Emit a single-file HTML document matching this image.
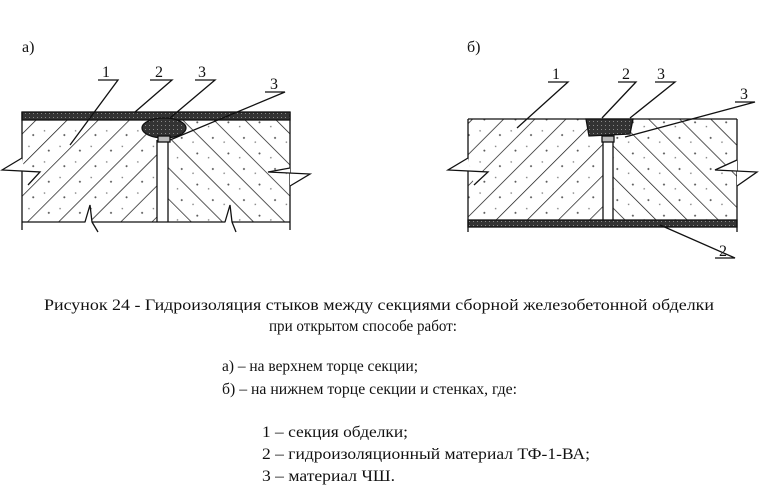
<!DOCTYPE html>
<html><head><meta charset="utf-8"><style>
body{margin:0;background:#fff;}
svg{display:block}
text{font-family:"Liberation Serif",serif;fill:#111}
</style></head><body>
<svg width="776" height="504" viewBox="0 0 776 504" xmlns="http://www.w3.org/2000/svg">
<defs>
<pattern id="hl" width="22" height="22" patternUnits="userSpaceOnUse" patternTransform="rotate(45)">
<line x1="0" y1="0" x2="0" y2="22" stroke="#111" stroke-width="1.4"/>
<circle cx="9" cy="6" r="1" fill="#555"/><circle cx="14" cy="17" r="0.8" fill="#777"/></pattern>
<pattern id="hr" width="22" height="22" patternUnits="userSpaceOnUse" patternTransform="rotate(-45)">
<line x1="0" y1="0" x2="0" y2="22" stroke="#111" stroke-width="1.4"/>
<circle cx="9" cy="6" r="1" fill="#555"/><circle cx="14" cy="17" r="0.8" fill="#777"/></pattern>
<pattern id="dk" width="4" height="4" patternUnits="userSpaceOnUse">
<rect width="4" height="4" fill="#333"/><rect x="1" y="1" width="1" height="1" fill="#888"/></pattern>
</defs>
<g stroke="#111" fill="none" stroke-width="1.3">
<!-- Diagram a -->
<rect x="22" y="112" width="135" height="110" fill="url(#hl)" stroke="none"/>
<rect x="168" y="112" width="122" height="110" fill="url(#hr)" stroke="none"/>
<rect x="22" y="112" width="268" height="8" fill="url(#dk)"/>
<line x1="22" y1="112" x2="22" y2="230"/><line x1="290" y1="112" x2="290" y2="230"/>
<line x1="22" y1="222" x2="290" y2="222"/>
<line x1="157" y1="140" x2="157" y2="222"/><line x1="168" y1="140" x2="168" y2="222"/>
<ellipse cx="164" cy="128" rx="22" ry="10" fill="url(#dk)"/>
<rect x="158" y="136" width="12" height="6" fill="#bbb"/>
<polyline points="22,158 2,170 40,172 28,185" fill="#fff"/>
<polyline points="85,222 90,205 92,222 98,232" fill="#fff"/>
<polyline points="290,168 268,172 310,174 290,186" fill="#fff"/>
<polyline points="225,222 230,205 232,222 236,232" fill="#fff"/>
<polyline points="98,80 118,80 70,145"/>
<polyline points="150,80 172,80 135,112"/>
<polyline points="195,80 215,80 170,118"/>
<polyline points="265,92 285,92 170,140"/>
<!-- Diagram b -->
<rect x="468" y="119" width="135" height="101" fill="url(#hl)" stroke="none"/>
<rect x="613" y="119" width="124" height="101" fill="url(#hr)" stroke="none"/>
<line x1="468" y1="119" x2="737" y2="119"/>
<rect x="468" y="220" width="269" height="7" fill="url(#dk)"/>
<line x1="468" y1="119" x2="468" y2="232"/><line x1="737" y1="119" x2="737" y2="232"/>
<line x1="603" y1="136" x2="603" y2="220"/><line x1="613" y1="136" x2="613" y2="220"/>
<path d="M586,119 L633,119 L630,134 L589,136 Z" fill="url(#dk)"/>
<rect x="602" y="136" width="12" height="6" fill="#bbb"/>
<polyline points="468,158 448,170 488,172 474,185" fill="#fff"/>
<polyline points="737,160 715,170 757,172 737,186" fill="#fff"/>
<polyline points="548,82 568,82 517,128"/>
<polyline points="618,82 636,82 602,118"/>
<polyline points="655,82 675,82 630,118"/>
<polyline points="735,102 755,102 625,137"/>
<polyline points="715,258 735,258 660,225"/>
</g>
<g font-size="16">
<text x="22" y="52">а)</text>
<text x="467" y="52">б)</text>
<text x="102" y="77">1</text><text x="155" y="77">2</text><text x="198" y="77">3</text><text x="270" y="89">3</text>
<text x="552" y="79">1</text><text x="622" y="79">2</text><text x="657" y="79">3</text><text x="740" y="99">3</text>
<text x="719" y="256">2</text>
</g>
<g font-size="16">
<text x="44" y="310" textLength="670" lengthAdjust="spacingAndGlyphs">Рисунок 24 - Гидроизоляция стыков между секциями сборной железобетонной обделки</text>
<text x="269" y="331" textLength="188" lengthAdjust="spacingAndGlyphs">при открытом способе работ:</text>
<text x="222" y="371" textLength="196" lengthAdjust="spacingAndGlyphs">а)  – на верхнем торце секции;</text>
<text x="222" y="394" textLength="295" lengthAdjust="spacingAndGlyphs">б)  – на нижнем торце секции и стенках, где:</text>
<text x="262" y="437" textLength="146" lengthAdjust="spacingAndGlyphs">1 – секция обделки;</text>
<text x="262" y="459" textLength="328" lengthAdjust="spacingAndGlyphs">2 – гидроизоляционный материал ТФ-1-ВА;</text>
<text x="262" y="481" textLength="133" lengthAdjust="spacingAndGlyphs">3 – материал ЧШ.</text>
</g>
</svg>
</body></html>
